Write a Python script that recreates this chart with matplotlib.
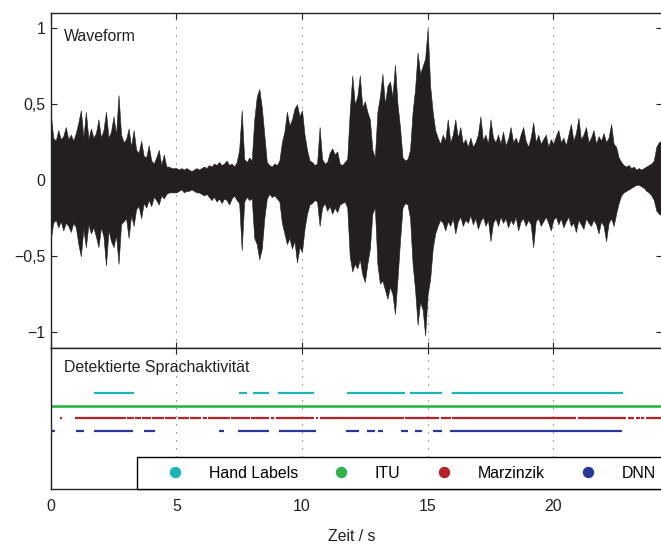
import numpy as np
import matplotlib
matplotlib.use("Agg")
import matplotlib.pyplot as plt
from matplotlib.lines import Line2D
from matplotlib.patches import Rectangle

plt.rcParams['font.family'] = ['Liberation Sans', 'DejaVu Sans']
plt.rcParams['font.size'] = 11.4

# --- waveform envelope (upper / lower peak values, 0.1 s steps) ---
wave_upper = [
    0.44, 0.28, 0.26, 0.33, 0.27, 0.29, 0.35, 0.27, 0.30, 0.26,
    0.31, 0.38, 0.46, 0.28, 0.45, 0.27, 0.34, 0.28, 0.31, 0.40,
    0.28, 0.33, 0.45, 0.28, 0.32, 0.42, 0.30, 0.56, 0.30, 0.25,
    0.27, 0.34, 0.22, 0.33, 0.20, 0.18, 0.26, 0.16, 0.15, 0.23,
    0.13, 0.11, 0.15, 0.20, 0.10, 0.17, 0.09, 0.09, 0.08, 0.08,
    0.08, 0.07, 0.08, 0.07, 0.08, 0.07, 0.06, 0.07, 0.08, 0.07,
    0.08, 0.09, 0.08, 0.10, 0.09, 0.11, 0.10, 0.12, 0.10, 0.11,
    0.13, 0.10, 0.11, 0.09, 0.12,
    0.20, 0.46, 0.14, 0.12, 0.15, 0.13, 0.40, 0.55, 0.60, 0.48,
    0.30, 0.12, 0.10, 0.09, 0.11, 0.10, 0.13, 0.25, 0.32, 0.45,
    0.36, 0.40, 0.47, 0.50, 0.42, 0.46, 0.30, 0.20, 0.13, 0.12,
    0.10, 0.11, 0.35, 0.14, 0.11, 0.12, 0.18, 0.21, 0.17, 0.19,
    0.11, 0.10, 0.12, 0.14,
    0.45, 0.69, 0.50, 0.55, 0.69, 0.48, 0.52, 0.45, 0.40, 0.20,
    0.15, 0.45, 0.55, 0.70, 0.50, 0.62, 0.65, 0.55, 0.76, 0.50,
    0.35, 0.15, 0.13, 0.14, 0.20, 0.45, 0.60, 0.84, 0.70, 0.75,
    0.80, 1.00, 0.62, 0.45, 0.33,
    0.28, 0.24, 0.30, 0.26, 0.40, 0.25, 0.30, 0.40, 0.28, 0.35,
    0.24, 0.27, 0.22, 0.28, 0.22, 0.25, 0.30, 0.42, 0.26, 0.30,
    0.24, 0.40, 0.28, 0.25, 0.30, 0.24, 0.32, 0.23, 0.27, 0.35,
    0.25, 0.28, 0.24, 0.30, 0.35, 0.26, 0.22, 0.28, 0.38, 0.25,
    0.30, 0.24, 0.27, 0.30, 0.22, 0.27, 0.24, 0.29, 0.33, 0.25,
    0.28, 0.23, 0.30, 0.37, 0.26, 0.31, 0.41, 0.27, 0.30, 0.35,
    0.25, 0.28, 0.33, 0.24, 0.29, 0.26, 0.31, 0.25, 0.28, 0.37,
    0.24, 0.22, 0.15, 0.12, 0.10, 0.09, 0.10, 0.08, 0.09, 0.07,
    0.08, 0.07, 0.08, 0.09, 0.10, 0.11, 0.13, 0.22, 0.25, 0.26,
]
wave_lower = [
    -0.39, -0.28, -0.26, -0.31, -0.27, -0.33, -0.28, -0.30, -0.34, -0.28,
    -0.31, -0.42, -0.50, -0.32, -0.44, -0.29, -0.35, -0.31, -0.37, -0.44,
    -0.31, -0.37, -0.56, -0.33, -0.40, -0.44, -0.36, -0.55, -0.29, -0.27,
    -0.25, -0.38, -0.23, -0.30, -0.19, -0.17, -0.25, -0.15, -0.18, -0.13,
    -0.17, -0.11, -0.13, -0.16, -0.10, -0.12, -0.09, -0.08, -0.08, -0.08,
    -0.08, -0.07, -0.06, -0.08, -0.07, -0.07, -0.06, -0.07, -0.08, -0.08,
    -0.09, -0.10, -0.09, -0.11, -0.13, -0.11, -0.14, -0.12, -0.15, -0.12,
    -0.13, -0.16, -0.12, -0.10, -0.13,
    -0.15, -0.46, -0.14, -0.11, -0.13, -0.12, -0.38, -0.42, -0.52, -0.45,
    -0.25, -0.12, -0.09, -0.11, -0.10, -0.12, -0.14, -0.28, -0.35, -0.42,
    -0.38, -0.45, -0.40, -0.54, -0.44, -0.47, -0.32, -0.22, -0.16, -0.15,
    -0.13, -0.14, -0.30, -0.18, -0.15, -0.20, -0.17, -0.22, -0.18, -0.21,
    -0.16, -0.15, -0.14, -0.18,
    -0.50, -0.60, -0.55, -0.58, -0.52, -0.62, -0.67, -0.55, -0.45, -0.22,
    -0.18, -0.55, -0.68, -0.66, -0.72, -0.78, -0.70, -0.75, -0.88, -0.65,
    -0.40, -0.18, -0.15, -0.16, -0.25, -0.55, -0.72, -0.95, -0.80, -0.85,
    -1.02, -0.75, -0.65, -0.45, -0.35,
    -0.30, -0.26, -0.28, -0.33, -0.27, -0.30, -0.25, -0.35, -0.27, -0.24,
    -0.30, -0.26, -0.28, -0.23, -0.29, -0.25, -0.32, -0.27, -0.24, -0.30,
    -0.26, -0.40, -0.28, -0.25, -0.30, -0.24, -0.28, -0.25, -0.31, -0.26,
    -0.29, -0.24, -0.33, -0.27, -0.25, -0.30, -0.26, -0.29, -0.44, -0.27,
    -0.25, -0.30, -0.27, -0.24, -0.28, -0.33, -0.26, -0.24, -0.29, -0.25,
    -0.31, -0.27, -0.24, -0.30, -0.28, -0.34, -0.26, -0.29, -0.32, -0.25,
    -0.28, -0.30, -0.26, -0.29, -0.35, -0.27, -0.30, -0.40, -0.28, -0.25,
    -0.30, -0.22, -0.15, -0.10, -0.08, -0.07, -0.06, -0.05, -0.04, -0.03,
    -0.03, -0.04, -0.05, -0.07, -0.08, -0.10, -0.13, -0.20, -0.22, -0.23,
]
wave_step = 0.1  # seconds between envelope values

# --- detected speech activity segments (start, end) in seconds ---
hand_labels = [(1.73, 3.33), (7.50, 7.80), (8.06, 8.69), (9.05, 10.47),
               (11.81, 14.09), (14.30, 15.59), (15.97, 22.79)]
itu = [(0.0, 24.32)]
marzinzik = [(0.36, 0.44), (0.97, 3.00), (3.05, 3.30), (3.35, 3.60),
             (3.65, 4.00), (4.05, 4.50), (4.55, 5.00), (5.05, 5.50),
             (5.55, 6.00), (6.05, 6.20), (6.25, 7.13), (7.18, 7.93),
             (7.98, 8.70), (8.78, 8.90), (8.95, 10.47), (10.55, 10.62),
             (10.70, 14.04), (14.10, 15.47), (15.53, 15.93), (15.98, 20.90),
             (20.97, 22.90), (22.98, 23.20), (23.28, 23.45), (23.50, 23.62),
             (23.70, 24.32)]
dnn = [(0.0, 0.17), (0.99, 1.34), (1.71, 3.29), (3.72, 4.15), (6.71, 6.91),
       (7.44, 8.70), (9.08, 10.54), (11.77, 12.27), (12.60, 12.90),
       (13.02, 13.24), (13.94, 14.23), (14.50, 14.76), (15.21, 15.58),
       (15.90, 22.75)]

detector_names = ["Hand Labels", "ITU", "Marzinzik", "DNN"]
detector_segments = [hand_labels, itu, marzinzik, dnn]
detector_colors = ["#1db5b5", "#2eb34a", "#b5222a", "#27389a"]
detector_rows = [4, 3, 2, 1]

x_ticks = [0, 5, 10, 15, 20]
y_ticks = [-1, -0.5, 0, 0.5, 1]
y_tick_labels = ["\u22121", "\u22120,5", "0", "0,5", "1"]
x_max = 24.32

# --- figure layout ---
W, H = 661, 544
fig = plt.figure(figsize=(W / 100, H / 100), dpi=100)
ax_left = 50.7 / W
ax_width = x_max * 25.13 / W
ax_wave = fig.add_axes([ax_left, (H - 347.5) / H, ax_width, 334.5 / H])
ax_vad = fig.add_axes([ax_left, (H - 489.0) / H, ax_width, 141.5 / H])

grid_kw = dict(color="#808080", lw=0.8, ls=(0, (1.2, 6.0)), zorder=0)
wave_color = "#231f20"

# waveform envelope
wave_t = np.arange(len(wave_upper)) * wave_step
ax_wave.fill_between(wave_t, wave_lower, wave_upper, color=wave_color,
                     lw=0.4, edgecolor=wave_color, zorder=2)
ax_wave.set_xlim(0, x_max)
ax_wave.set_ylim(-1.1, 1.1)
ax_wave.set_xticks(x_ticks)
ax_wave.set_xticklabels([])
ax_wave.set_yticks(y_ticks)
ax_wave.set_yticklabels(y_tick_labels)
for xv in x_ticks[1:]:
    ax_wave.axvline(xv, **grid_kw)
ax_wave.tick_params(direction="in", top=True, right=True, length=4,
                    width=0.8, pad=4)
ax_wave.text(13.3 / 610.7, 0.917, "Waveform", transform=ax_wave.transAxes,
             va="baseline", ha="left", color="#222222")

# speech activity
for segs, color, row in zip(detector_segments, detector_colors, detector_rows):
    starts = [s for s, e in segs]
    ends = [e for s, e in segs]
    lw = 1.9 if row == 3 else 1.6
    ax_vad.hlines([row] * len(segs), starts, ends, colors=color, lw=lw,
                  zorder=2)
ax_vad.set_xlim(0, x_max)
ax_vad.set_ylim(-3.68, 7.64)
ax_vad.set_yticks([])
ax_vad.set_xticks(x_ticks)
ax_vad.set_xticklabels([str(v) for v in x_ticks])
for xv in x_ticks[1:]:
    ax_vad.axvline(xv, **grid_kw)
ax_vad.tick_params(direction="in", top=True, bottom=True, length=4,
                   width=0.8, pad=7.5)
ax_vad.text(13.6 / 610.7, 0.829, "Detektierte Sprachaktivit\u00e4t",
            transform=ax_vad.transAxes, va="baseline", ha="left",
            color="#222222")

# legend box
ax_vad.add_patch(Rectangle((86.0 / 610.7, 0.0), 0.9, 0.228,
                           transform=ax_vad.transAxes, facecolor="white",
                           edgecolor="black", lw=1.0, zorder=4,
                           clip_on=False))
handles = [Line2D([], [], ls="none", marker="o", markersize=7.2,
                  markerfacecolor=c, markeredgecolor=c)
           for c in detector_colors]
ax_vad.legend(handles, detector_names, ncol=4, frameon=False,
              loc="center left", bbox_to_anchor=(116.3 / 610.7, 0.113),
              borderpad=0, borderaxespad=0, handlelength=1.0,
              handletextpad=1.63, columnspacing=2.23).set_zorder(5)

for ax in (ax_wave, ax_vad):
    for sp in ax.spines.values():
        sp.set_linewidth(1.0)
        sp.set_color("#222222")
    ax.tick_params(colors="#222222")

fig.text(351.5 / W, (H - 541.0) / H, "Zeit / s", ha="center", va="baseline",
         color="#222222")

fig.savefig("out.png", dpi=100)
